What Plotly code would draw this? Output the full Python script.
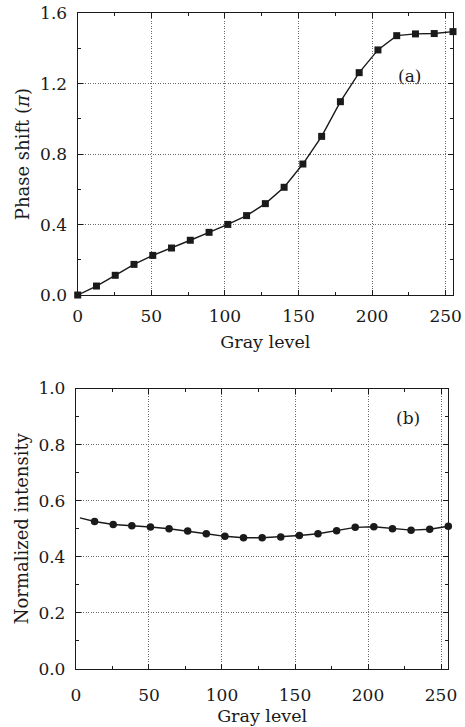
import plotly.graph_objects as go

gray_a = [0, 12.75, 25.5, 38.25, 51, 63.75, 76.5, 89.25, 102, 114.75, 127.5,
          140.25, 153, 165.75, 178.5, 191.25, 204, 216.75, 229.5, 242.25, 255]
phase = [0.0, 0.051, 0.112, 0.174, 0.225, 0.267, 0.311, 0.356, 0.401, 0.451, 0.519,
         0.612, 0.744, 0.901, 1.098, 1.263, 1.392, 1.473, 1.483, 1.485, 1.496]

gray_b = [2.7, 12.75, 25.5, 38.25, 51, 63.75, 76.5, 89.25, 102, 114.75, 127.5,
          140.25, 153, 165.75, 178.5, 191.25, 204, 216.75, 229.5, 242.25, 255]
intensity = [0.539, 0.526, 0.515, 0.511, 0.506, 0.500, 0.492, 0.482, 0.473, 0.468, 0.468,
             0.471, 0.476, 0.482, 0.493, 0.505, 0.507, 0.500, 0.495, 0.498, 0.509]

FONT = "DejaVu Serif"
INK = "#1a1a1a"
fig = go.Figure()
fig.add_trace(go.Scatter(x=gray_a, y=phase, mode="lines",
                         line=dict(color=INK, width=1.4),
                         xaxis="x", yaxis="y", cliponaxis=False, showlegend=False))
fig.add_trace(go.Scatter(x=gray_a, y=phase, mode="markers",
                         marker=dict(symbol="square", size=7, color=INK, opacity=1,
                                     line=dict(width=0)),
                         xaxis="x", yaxis="y", cliponaxis=False, showlegend=False))
fig.add_trace(go.Scatter(x=gray_b, y=intensity, mode="lines",
                         line=dict(color=INK, width=1.4),
                         xaxis="x2", yaxis="y2", cliponaxis=False, showlegend=False))
fig.add_trace(go.Scatter(x=gray_b[1:], y=intensity[1:], mode="markers",
                         marker=dict(symbol="circle", size=7.5, color=INK, opacity=1,
                                     line=dict(width=0)),
                         xaxis="x2", yaxis="y2", cliponaxis=False, showlegend=False))

common = dict(showline=True, linecolor=INK, linewidth=1.3, mirror="ticks",
              ticks="inside", ticklen=5, tickcolor=INK, tickwidth=1,
              showgrid=True, gridcolor="#6a6a6a", griddash="1px,1.5px", gridwidth=1,
              zeroline=False, tickfont=dict(family=FONT, size=17, color=INK),
              ticklabeloverflow="allow", automargin=False)

TFX = dict(family=FONT, size=17.5, color=INK)
TFY = dict(family=FONT, size=18, color=INK)
fig.update_layout(
    width=465, height=727, margin=dict(l=0, r=0, t=0, b=0),
    plot_bgcolor="white", paper_bgcolor="white",
    font=dict(family=FONT, color=INK),
    xaxis=dict(domain=[0.1671, 0.9742], range=[0, 255], dtick=50, tick0=0,
               minor=dict(ticks="inside", ticklen=3, dtick=25, tickcolor=INK),
               ticklabelstandoff=5,
               title=dict(text="Gray level", font=TFX, standoff=11),
               anchor="y", **common),
    yaxis=dict(domain=[0.5942, 0.9817], range=[0, 1.6], dtick=0.4, tick0=0, tickformat=".1f",
               minor=dict(ticks="inside", ticklen=3, dtick=0.2, tickcolor=INK),
               ticklabelstandoff=6,
               title=dict(text="Phase shift (<i>π</i>)", font=TFY, standoff=5),
               anchor="x", **common),
    xaxis2=dict(domain=[0.1634, 0.9641], range=[0, 255], dtick=50, tick0=0,
                minor=dict(ticks="inside", ticklen=3, dtick=25, tickcolor=INK),
                ticklabelstandoff=10,
                title=dict(text="Gray level", font=TFX, standoff=6),
                anchor="y2", **common),
    yaxis2=dict(domain=[0.0798, 0.4656], range=[0, 1.0], dtick=0.2, tick0=0, tickformat=".1f",
                minor=dict(ticks="inside", ticklen=3, dtick=0.1, tickcolor=INK),
                ticklabelstandoff=6,
                title=dict(text="Normalized intensity", font=TFY, standoff=5),
                anchor="x2", **common),
    annotations=[
        dict(text="(a)", x=0.9097, y=0.912, xref="paper", yref="paper", showarrow=False,
             font=dict(family=FONT, size=17, color=INK)),
        dict(text="(b)", x=0.9075, y=0.425, xref="paper", yref="paper", showarrow=False,
             font=dict(family=FONT, size=17, color=INK)),
    ],
)

fig.write_html("out.html", config={"displayModeBar": False},
               post_script="document.body.style.margin='0';document.body.style.overflow='hidden';")
